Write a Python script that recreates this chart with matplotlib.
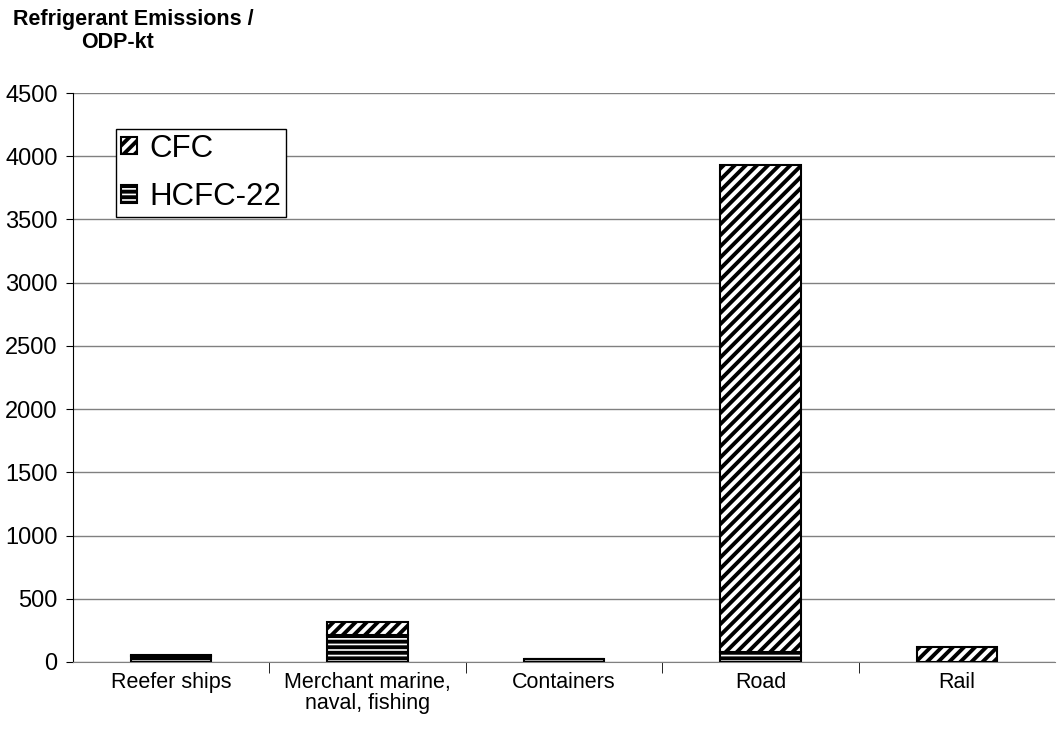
import matplotlib.pyplot as plt
import numpy as np

plt.rcParams['font.family'] = ['Liberation Sans', 'DejaVu Sans']
plt.rcParams['hatch.linewidth'] = 2.8

categories = ['Reefer ships', 'Merchant marine,\nnaval, fishing', 'Containers', 'Road', 'Rail']
hcfc22 = [50, 210, 20, 80, 0]
cfc = [5, 105, 0, 3850, 120]

fig = plt.figure(figsize=(10.57, 7.35), dpi=100)
ax = fig.add_axes([73 / 1057, 1 - 662 / 735, (1055 - 73) / 1057, (662 - 93) / 735])

x = np.arange(len(categories))
w = 0.41
b1 = ax.bar(x, hcfc22, w, color='white', edgecolor='black', hatch='---', linewidth=1.5,
            label='HCFC-22', zorder=3)
b2 = ax.bar(x, cfc, w, bottom=hcfc22, color='white', edgecolor='black', hatch='///',
            linewidth=1.5, label='CFC', zorder=3)

ax.set_xlim(-0.5, len(categories) - 0.5)
ax.set_ylim(0, 4500)
ax.set_yticks(np.arange(0, 4501, 500))
ax.yaxis.grid(True, color='#808080', linewidth=1)
ax.set_axisbelow(True)

ax.spines['top'].set_visible(False)
ax.spines['right'].set_visible(False)
ax.spines['left'].set_color('black')
ax.spines['bottom'].set_color('#808080')
ax.tick_params(axis='y', labelsize=17, length=5, direction='out', color='black', pad=6)

# category labels centred, ticks between categories
ax.set_xticks(x)
ax.set_xticklabels(categories, fontsize=15.5, linespacing=1.0)
ax.tick_params(axis='x', length=0, pad=7)
ax.set_xticks(np.arange(0.5, len(categories) - 1, 1), minor=True)
ax.tick_params(axis='x', which='minor', length=8, color='black', direction='out')

leg = ax.legend([b2, b1], ['CFC', 'HCFC-22'], loc='upper left', bbox_to_anchor=(0.044, 0.937),
                fontsize=22.5, fancybox=False, edgecolor='black', framealpha=1,
                handlelength=0.5, handleheight=0.5, handletextpad=0.4, borderpad=0.15,
                labelspacing=0.6, borderaxespad=0)
leg.get_frame().set_linewidth(1)

fig.text(133 / 1057, 1 - 19 / 735, 'Refrigerant Emissions /', ha='center', va='center',
         fontsize=15.5, fontweight='bold')
fig.text(118 / 1057, 1 - 43 / 735, 'ODP-kt', ha='center', va='center',
         fontsize=15.5, fontweight='bold')

fig.savefig('out.png', dpi=100)
